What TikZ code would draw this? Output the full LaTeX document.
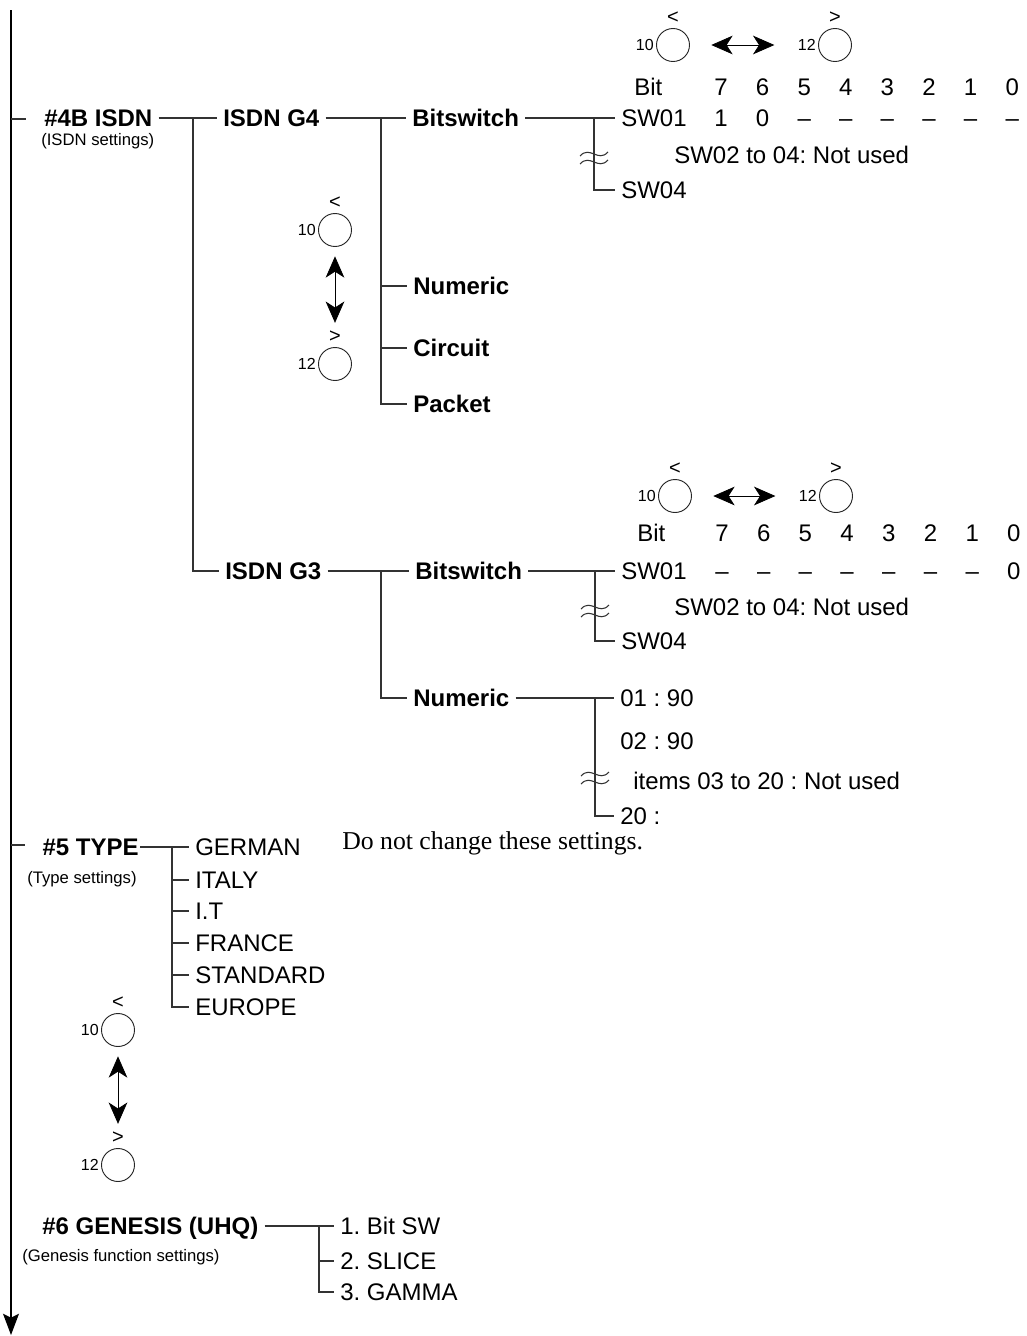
\documentclass[tikz,border=0pt]{standalone}
\usepackage{fontspec}
\setmainfont{Liberation Sans}
\newfontfamily\serifnote{Liberation Serif}
\usetikzlibrary{arrows.meta}
\frenchspacing

\tikzset{
  conn/.style={draw=black!80, line width=0.8pt},
  menu/.style={font=\bfseries\fontsize{18}{20}\selectfont, anchor=west, inner xsep=4.5pt, inner ysep=0pt, text height=12.9pt, text depth=0pt},
  entry/.style={font=\fontsize{18}{20}\selectfont, anchor=west, inner xsep=4.5pt, inner ysep=0pt, text height=12.9pt, text depth=0pt},
  bitcell/.style={font=\fontsize{18}{20}\selectfont, inner sep=0pt, text height=12.9pt, text depth=0pt},
  remark/.style={font=\fontsize{12.5}{14}\selectfont, anchor=base west, inner sep=0pt},
  knob/.style={circle, draw=black!85, line width=0.7pt, minimum size=24.75pt, inner sep=0pt},
  knoblabel/.style={font=\fontsize{12}{14}\selectfont, inner sep=1.5pt},
  knobmark/.style={font=\fontsize{15}{16}\selectfont, inner sep=0pt, label distance=3pt},
  swap/.style={line width=0.6pt, {Stealth[length=16pt,width=14pt,inset=4.5pt]}-{Stealth[length=16pt,width=14pt,inset=4.5pt]}},
}

% two tildes over a broken line
\newcommand{\waveskip}[1]{%
  \draw[conn] ([shift={(-14,-2)}]#1) .. controls ([shift={(-4,-13)}]#1) and ([shift={(4,5)}]#1) .. ([shift={(14,-6)}]#1);
  \draw[conn] ([shift={(-14,6)}]#1) .. controls ([shift={(-4,-5)}]#1) and ([shift={(4,13)}]#1) .. ([shift={(14,2)}]#1);
}

\begin{document}
\begin{tikzpicture}[x=0.75pt, y=-0.75pt]
  \useasboundingbox (0,0) rectangle (1026,1336);

  % spine
  \coordinate (spine top) at (11,10);
  \coordinate (spine end) at (11,1335);
  \draw[line width=0.9pt, -{Stealth[length=16pt,width=12pt,inset=3pt]}] (spine top) -- (spine end);

  % #4B ISDN
  \coordinate (tick4) at (11,119);
  \node[menu] (isdn) at (38,118) {\#4B ISDN};
  \node[remark] (isdnnote) at (41,145) {(ISDN settings)};
  \draw[conn] (tick4) -- ++(15,0);
  \node[menu] (g4) at (217,118) {ISDN G4};
  \node[menu] (g3) at (219,571) {ISDN G3};
  \coordinate (j1) at (193,118);
  \draw[conn] (isdn) -- (g4);
  \draw[conn] (j1) |- (g3);

  % ISDN G4
  \node[menu] (bs4) at (406,118) {Bitswitch};
  \node[menu] (num4) at (407,286) {Numeric};
  \node[menu] (cir4) at (407,348) {Circuit};
  \node[menu] (pack4) at (407,404) {Packet};
  \coordinate (j2) at (381,118);
  \draw[conn] (g4) -- (bs4);
  \draw[conn] (j2) |- (num4);
  \draw[conn] (j2) |- (cir4);
  \draw[conn] (j2) |- (pack4);

  \node[entry] (sw4a) at (615,118) {SW01};
  \node[entry] (sw4b) at (615,190) {SW04};
  \node[entry] (sw4note) at (668,155) {SW02 to 04: Not used};
  \coordinate (j3) at (594,118);
  \coordinate (brk4) at (594,158);
  \draw[conn] (bs4) -- (sw4a);
  \draw[conn] (j3) -- ([yshift=-12]brk4);
  \draw[conn] ([yshift=12]brk4) |- (sw4b);
  \waveskip{brk4}

  \node[bitcell, anchor=west] (bitA) at (634,87) {Bit};
  \foreach \b [count=\i from 0] in {7,6,5,4,3,2,1,0}
    \node[bitcell] (bitA\b) at ({721+41.6*\i},87) {\b};
  \foreach \v [count=\i from 0] in {1,0,--,--,--,--,--,--}
    \node[bitcell] (valA\i) at ({721+41.6*\i},118) {\v};

  \node[knob, label={[knoblabel]left:10}, label={[knobmark]above:<}] (knobAa) at (673,45) {};
  \node[knob, label={[knoblabel, name=knobAb12]left:12}, label={[knobmark]above:>}] (knobAb) at (835,45) {};
  \draw[swap, shorten <=16pt, shorten >=16pt] (knobAa) -- (knobAb12);

  \node[knob, label={[knoblabel]left:10}, label={[knobmark]above:<}] (knobBa) at (335,230) {};
  \node[knob, label={[knoblabel]left:12}, label={[knobmark, name=knobBbmark]above:>}] (knobBb) at (335,364) {};
  \draw[swap, shorten <=7pt, shorten >=6pt] (knobBa) -- (knobBbmark);

  % ISDN G3
  \node[menu] (bs3) at (409,571) {Bitswitch};
  \node[menu] (num3) at (407,698) {Numeric};
  \coordinate (j4) at (381,571);
  \draw[conn] (g3) -- (bs3);
  \draw[conn] (j4) |- (num3);

  \node[entry] (sw3a) at (615,571) {SW01};
  \node[entry] (sw3b) at (615,641) {SW04};
  \node[entry] (sw3note) at (668,607) {SW02 to 04: Not used};
  \coordinate (j5) at (595,571);
  \coordinate (brk3) at (595,611);
  \draw[conn] (bs3) -- (sw3a);
  \draw[conn] (j5) -- ([yshift=-12]brk3);
  \draw[conn] ([yshift=12]brk3) |- (sw3b);
  \waveskip{brk3}

  \node[bitcell, anchor=west] (bitB) at (637,533) {Bit};
  \foreach \b [count=\i from 0] in {7,6,5,4,3,2,1,0}
    \node[bitcell] (bitB\b) at ({722+41.7*\i},533) {\b};
  \foreach \v [count=\i from 0] in {--,--,--,--,--,--,--,0}
    \node[bitcell] (valB\i) at ({722+41.7*\i},571) {\v};

  \node[knob, label={[knoblabel]left:10}, label={[knobmark]above:<}] (knobDa) at (675,496) {};
  \node[knob, label={[knoblabel, name=knobDb12]left:12}, label={[knobmark]above:>}] (knobDb) at (836,496) {};
  \draw[swap, shorten <=16pt, shorten >=16pt] (knobDa) -- (knobDb12);

  \node[entry] (n01) at (614,698) {01 : 90};
  \node[entry] (n02) at (614,741) {02 : 90};
  \node[entry] (nitems) at (627,781) {items 03 to 20 : Not used};
  \node[entry] (n20) at (614,816) {20 :};
  \coordinate (j6) at (595,698);
  \coordinate (brk5) at (595,778);
  \draw[conn] (num3) -- (n01);
  \draw[conn] (j6) -- ([yshift=-12]brk5);
  \draw[conn] ([yshift=12]brk5) |- (n20);
  \waveskip{brk5}

  \node[anchor=base west, inner sep=0pt, font=\serifnote\fontsize{19.3}{22}\selectfont] (keep) at (342,849) {Do not change these settings.};

  % #5 TYPE
  \coordinate (tick5) at (11,845);
  \node[menu, inner xsep=1pt] (type) at (41,847) {\#5 TYPE};
  \node[remark] (typenote) at (27,883) {(Type settings)};
  \draw[conn] (tick5) -- ++(14,0);
  \node[entry] (german) at (189,847) {GERMAN};
  \node[entry] (italy) at (189,880) {ITALY};
  \node[entry] (it) at (189,911) {I.T};
  \node[entry] (france) at (189,943) {FRANCE};
  \node[entry] (standard) at (189,975) {STANDARD};
  \node[entry] (europe) at (189,1007) {EUROPE};
  \coordinate (j7) at (172,847);
  \draw[conn] (type) -- (german);
  \draw[conn] (j7) |- (italy);
  \draw[conn] (j7) |- (it);
  \draw[conn] (j7) |- (france);
  \draw[conn] (j7) |- (standard);
  \draw[conn] (j7) |- (europe);

  \node[knob, label={[knoblabel]left:10}, label={[knobmark]above:<}] (knobCa) at (118,1030) {};
  \node[knob, label={[knoblabel]left:12}, label={[knobmark, name=knobCbmark]above:>}] (knobCb) at (118,1165) {};
  \draw[swap, shorten <=7pt, shorten >=6pt] (knobCa) -- (knobCbmark);

  % #6 GENESIS
  \node[menu] (genesis) at (36,1226) {\#6 GENESIS (UHQ)};
  \node[remark] (gennote) at (22,1261) {(Genesis function settings)};
  \node[entry] (gen1) at (334,1226) {1. Bit SW};
  \node[entry] (gen2) at (334,1261) {2. SLICE};
  \node[entry] (gen3) at (334,1292) {3. GAMMA};
  \coordinate (j8) at (319,1226);
  \draw[conn] (genesis) -- (gen1);
  \draw[conn] (j8) |- (gen2);
  \draw[conn] (j8) |- (gen3);
\end{tikzpicture}
\end{document}
